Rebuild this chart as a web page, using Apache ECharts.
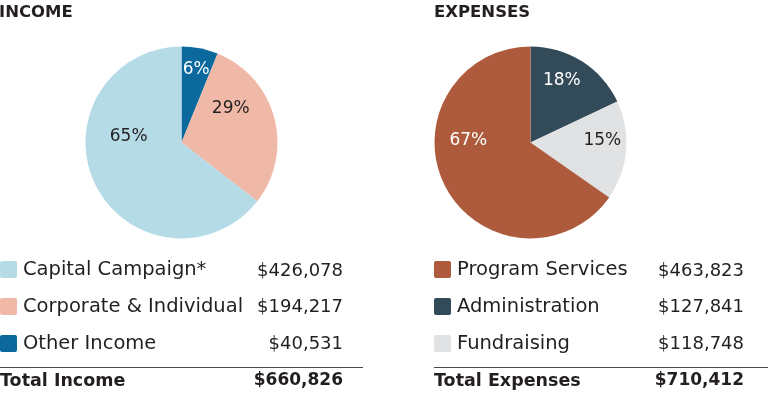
<!DOCTYPE html>
<html>
<head>
<meta charset="utf-8">
<script src="https://cdn.jsdelivr.net/npm/echarts@6/dist/echarts.min.js"></script>
<style>
  html, body { margin: 0; padding: 0; background: #fff; }
  #chart { width: 768px; height: 399px; }
</style>
</head>
<body>
<div id="chart"></div>
<script>
// income, in pie order (clockwise from 12 o'clock)
var incomeNames = ['Other Income', 'Corporate & Individual', 'Capital Campaign*'];
var incomeValues = [40531, 194217, 426078];
var incomeLabels = ['6%', '29%', '65%'];
var incomeLegend = ['Capital Campaign*', 'Corporate & Individual', 'Other Income'];

// expenses, in pie order
var expenseNames = ['Administration', 'Fundraising', 'Program Services'];
var expenseValues = [127841, 118748, 463823];
var expenseLabels = ['18%', '15%', '67%'];
var expenseLegend = ['Program Services', 'Administration', 'Fundraising'];

var FONT = '"DejaVu Sans", sans-serif';
var INK = '#231f20';

var incomeColors = { 'Other Income': '#0b699d', 'Corporate & Individual': '#f0b8a6', 'Capital Campaign*': '#b5dbe6' };
var expenseColors = { 'Administration': '#334a58', 'Fundraising': '#e1e2e4', 'Program Services': '#ad5b3c' };
// label look per slice
var incomeLabelStyle = [
    { color: '#fff', offset: [5, -23] },
    { color: INK, offset: [0, -21] },
    { color: INK, offset: [-7, -28] }
];
var expenseLabelStyle = [
    { color: '#fff', offset: [4, -19] },
    { color: INK, offset: [21, -6] },
    { color: '#fff', offset: [-17, -25] }
];

function money(v) {
    return '$' + v.toLocaleString('en-US');
}
function sum(arr) {
    return arr.reduce(function (a, b) { return a + b; }, 0);
}

function pieData(names, values, labels, colors, styles) {
    return names.map(function (n, i) {
        return {
            name: n,
            value: values[i],
            itemStyle: { color: colors[n] },
            label: {
                formatter: labels[i],
                color: styles[i].color,
                offset: styles[i].offset
            }
        };
    });
}

function pieSeries(center, names, values, labels, colors, styles) {
    return {
        type: 'pie',
        center: center,
        radius: 96,
        startAngle: 90,
        clockwise: true,
        silent: true,
        itemStyle: { borderWidth: 0 },
        label: {
            position: 'inside',
            fontFamily: FONT,
            fontSize: 17,
            textBorderWidth: 0
        },
        labelLine: { show: false },
        data: pieData(names, values, labels, colors, styles)
    };
}

function legendBlock(left, data) {
    return {
        left: left,
        top: 259.5,
        orient: 'vertical',
        icon: 'path://M2,0 H15 Q17,0 17,2 V15 Q17,17 15,17 H2 Q0,17 0,15 V2 Q0,0 2,0 Z',
        itemWidth: 17,
        itemHeight: 17,
        itemGap: 17,
        padding: 0,
        selectedMode: false,
        itemStyle: { borderWidth: 0 },
        textStyle: { fontFamily: FONT, fontSize: 19.5, color: INK, padding: [0, 0, 0, 1] },
        data: data
    };
}

var rowY = [271, 307.8, 344.5];

function valueTexts(right, order, names, values) {
    return order.map(function (n, i) {
        return {
            type: 'text',
            x: right,
            y: rowY[i],
            style: {
                text: money(values[names.indexOf(n)]),
                fontFamily: FONT,
                fontSize: 18,
                fill: INK,
                align: 'right',
                verticalAlign: 'middle'
            }
        };
    });
}

function totalBlock(left, right, lineEnd, title, total) {
    return [
        {
            type: 'line',
            shape: { x1: left, y1: 367.5, x2: lineEnd, y2: 367.5 },
            style: { stroke: '#4a4a4a', lineWidth: 1 }
        },
        {
            type: 'text', x: left, y: 381,
            style: { text: title, fontFamily: FONT, fontWeight: 'bold', fontSize: 17.5, fill: INK, verticalAlign: 'middle' }
        },
        {
            type: 'text', x: right, y: 381,
            style: { text: money(total), fontFamily: FONT, fontWeight: 'bold', fontSize: 17, fill: INK, align: 'right', verticalAlign: 'middle' }
        }
    ];
}

var chart = echarts.init(document.getElementById('chart'));
var option = {
    animation: false,
    backgroundColor: '#fff',
    title: [
        { text: 'INCOME', left: -1, top: 4, padding: 0, textStyle: { fontFamily: FONT, fontWeight: 'bold', fontSize: 16.5, color: INK } },
        { text: 'EXPENSES', left: 434, top: 4, padding: 0, textStyle: { fontFamily: FONT, fontWeight: 'bold', fontSize: 16.5, color: INK } }
    ],
    legend: [
        legendBlock(0, incomeLegend),
        legendBlock(434, expenseLegend)
    ],
    series: [
        pieSeries([181.5, 142.4], incomeNames, incomeValues, incomeLabels, incomeColors, incomeLabelStyle),
        pieSeries([530.5, 142.4], expenseNames, expenseValues, expenseLabels, expenseColors, expenseLabelStyle)
    ],
    graphic: [].concat(
        valueTexts(343, incomeLegend, incomeNames, incomeValues),
        valueTexts(744, expenseLegend, expenseNames, expenseValues),
        totalBlock(0, 343, 363, 'Total Income', sum(incomeValues)),
        totalBlock(434, 744, 768, 'Total Expenses', sum(expenseValues))
    )
};
chart.setOption(option);
</script>
</body>
</html>
